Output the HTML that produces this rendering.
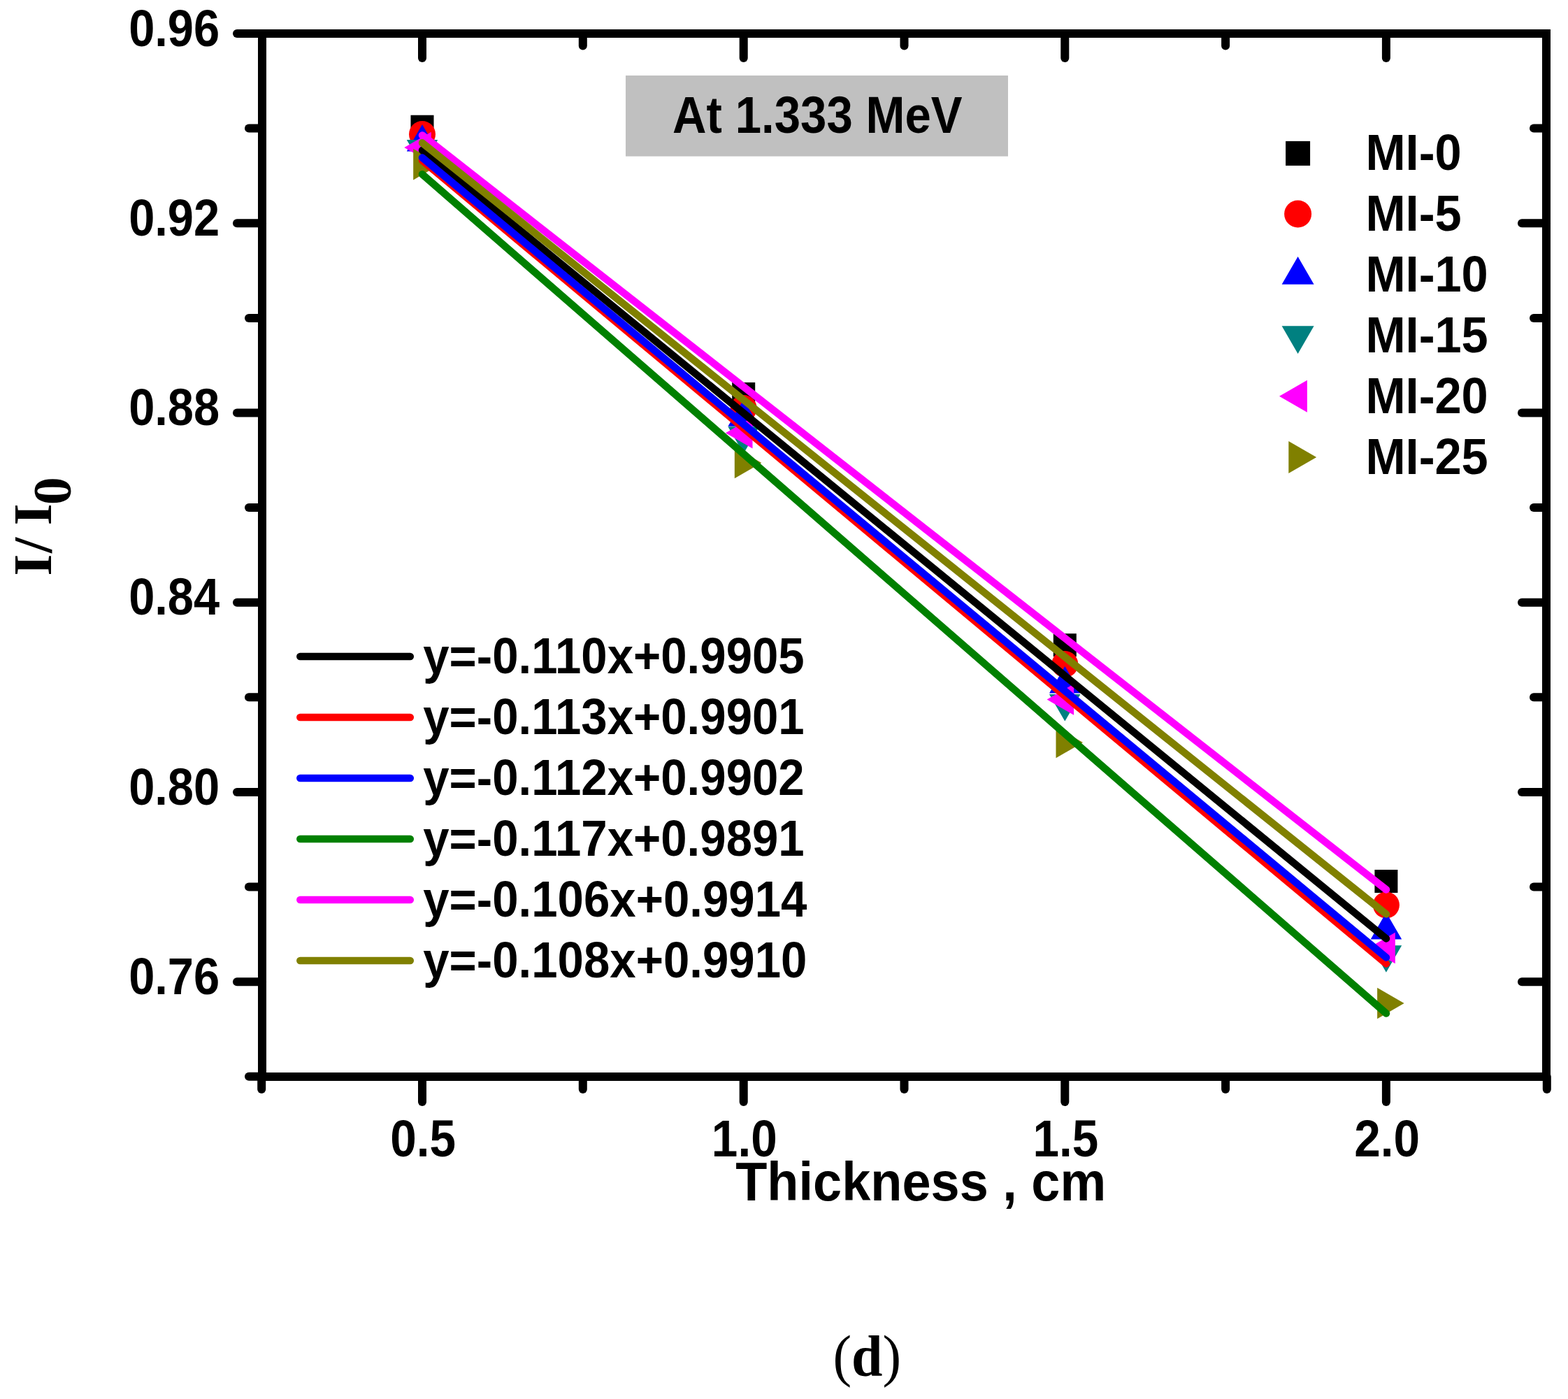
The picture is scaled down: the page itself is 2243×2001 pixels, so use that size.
<!DOCTYPE html><html><head><meta charset="utf-8"><title>I/I0 vs Thickness at 1.333 MeV</title><style>html,body{margin:0;padding:0;background:#fff;overflow:hidden;}svg{display:block;}.s{font-family:"Liberation Sans",Arial,sans-serif;font-weight:bold;}.t{font-family:"Liberation Serif","Times New Roman",serif;font-weight:bold;}</style></head><body>
<svg width="2243" height="2001" viewBox="0 0 2243 2001">
<rect width="2243" height="2001" fill="#fff"/>
<rect x="895" y="108" width="547" height="115.6" fill="#c0c0c0"/>
<g fill="#000"><rect x="587.5" y="164.7" width="33" height="33"/><rect x="1047.2" y="547.0" width="33" height="33"/><rect x="1506.8" y="906.2" width="33" height="33"/><rect x="1966.4" y="1244.0" width="33" height="33"/></g>
<g fill="#f00"><circle cx="604.0" cy="192.0" r="19.0"/><circle cx="1063.7" cy="584.0" r="19.0"/><circle cx="1523.3" cy="950.0" r="19.0"/><circle cx="1982.9" cy="1294.5" r="19.0"/></g>
<g fill="#00f"><polygon points="604.0,178.0 581.8,216.5 626.2,216.5"/><polygon points="1063.7,571.3 1041.4,609.8 1085.9,609.8"/><polygon points="1523.3,952.9 1501.0,991.4 1545.5,991.4"/><polygon points="1982.9,1304.9 1960.7,1343.4 2005.2,1343.4"/></g>
<g fill="#008080"><polygon points="604.0,238.6 581.8,200.1 626.2,200.1"/><polygon points="1063.7,648.7 1041.4,610.2 1085.9,610.2"/><polygon points="1523.3,1031.6 1501.0,993.1 1545.5,993.1"/><polygon points="1982.9,1390.7 1960.7,1352.2 2005.2,1352.2"/></g>
<g fill="#f0f"><polygon points="578.3,211.0 616.8,188.8 616.8,233.2"/><polygon points="1038.0,619.2 1076.5,597.0 1076.5,641.5"/><polygon points="1497.6,1000.5 1536.1,978.2 1536.1,1022.8"/><polygon points="1957.3,1355.9 1995.8,1333.7 1995.8,1378.2"/></g>
<g fill="#808000"><polygon points="629.7,235.1 591.2,212.8 591.2,257.4"/><polygon points="1089.3,662.0 1050.8,639.8 1050.8,684.2"/><polygon points="1549.0,1062.0 1510.5,1039.8 1510.5,1084.2"/><polygon points="2008.6,1435.0 1970.1,1412.8 1970.1,1457.2"/></g>
<g stroke-width="10.5" stroke-linecap="round" fill="none"><line x1="604" y1="215.0" x2="1983" y2="1342.5" stroke="#000"/><line x1="604" y1="229.5" x2="1983" y2="1378.5" stroke="#f00"/><line x1="604" y1="225.5" x2="1983" y2="1369.5" stroke="#00f"/><line x1="604" y1="249.2" x2="1983" y2="1449.5" stroke="#008000"/><line x1="604" y1="193.5" x2="1983" y2="1272.5" stroke="#f0f"/><line x1="604" y1="204.3" x2="1983" y2="1307.5" stroke="#808000"/></g>
<g stroke="#000" stroke-width="12" fill="none" stroke-linecap="round">
<rect x="375" y="48" width="1837" height="1492" stroke-linejoin="miter"/>
<line x1="375" y1="1539.8" x2="356" y2="1539.8"/>
<line x1="375" y1="1404.2" x2="339" y2="1404.2"/>
<line x1="2212" y1="1404.2" x2="2177" y2="1404.2"/>
<line x1="375" y1="1268.6" x2="356" y2="1268.6"/>
<line x1="2212" y1="1268.6" x2="2194" y2="1268.6"/>
<line x1="375" y1="1133.0" x2="339" y2="1133.0"/>
<line x1="2212" y1="1133.0" x2="2177" y2="1133.0"/>
<line x1="375" y1="997.3" x2="356" y2="997.3"/>
<line x1="2212" y1="997.3" x2="2194" y2="997.3"/>
<line x1="375" y1="861.7" x2="339" y2="861.7"/>
<line x1="2212" y1="861.7" x2="2177" y2="861.7"/>
<line x1="375" y1="726.1" x2="356" y2="726.1"/>
<line x1="2212" y1="726.1" x2="2194" y2="726.1"/>
<line x1="375" y1="590.5" x2="339" y2="590.5"/>
<line x1="2212" y1="590.5" x2="2177" y2="590.5"/>
<line x1="375" y1="454.9" x2="356" y2="454.9"/>
<line x1="2212" y1="454.9" x2="2194" y2="454.9"/>
<line x1="375" y1="319.2" x2="339" y2="319.2"/>
<line x1="2212" y1="319.2" x2="2177" y2="319.2"/>
<line x1="375" y1="183.6" x2="356" y2="183.6"/>
<line x1="2212" y1="183.6" x2="2194" y2="183.6"/>
<line x1="375" y1="48.0" x2="339" y2="48.0"/>
<line x1="374.2" y1="1540" x2="374.2" y2="1558"/>
<line x1="604.0" y1="1540" x2="604.0" y2="1576"/>
<line x1="604.0" y1="48" x2="604.0" y2="83"/>
<line x1="833.8" y1="1540" x2="833.8" y2="1558"/>
<line x1="833.8" y1="48" x2="833.8" y2="65.6"/>
<line x1="1063.7" y1="1540" x2="1063.7" y2="1576"/>
<line x1="1063.7" y1="48" x2="1063.7" y2="83"/>
<line x1="1293.5" y1="1540" x2="1293.5" y2="1558"/>
<line x1="1293.5" y1="48" x2="1293.5" y2="65.6"/>
<line x1="1523.3" y1="1540" x2="1523.3" y2="1576"/>
<line x1="1523.3" y1="48" x2="1523.3" y2="83"/>
<line x1="1753.1" y1="1540" x2="1753.1" y2="1558"/>
<line x1="1753.1" y1="48" x2="1753.1" y2="65.6"/>
<line x1="1982.9" y1="1540" x2="1982.9" y2="1576"/>
<line x1="1982.9" y1="48" x2="1982.9" y2="83"/>
<line x1="2212.8" y1="1540" x2="2212.8" y2="1558"/>
</g>
<text class="s" font-size="73.40" text-anchor="end" transform="translate(314.20 1421.90) scale(0.9105 1)">0.76</text>
<text class="s" font-size="73.40" text-anchor="end" transform="translate(314.20 1150.66) scale(0.9105 1)">0.80</text>
<text class="s" font-size="73.40" text-anchor="end" transform="translate(314.20 879.42) scale(0.9105 1)">0.84</text>
<text class="s" font-size="73.40" text-anchor="end" transform="translate(314.20 608.18) scale(0.9105 1)">0.88</text>
<text class="s" font-size="73.40" text-anchor="end" transform="translate(314.20 336.94) scale(0.9105 1)">0.92</text>
<text class="s" font-size="73.40" text-anchor="end" transform="translate(314.20 65.70) scale(0.9105 1)">0.96</text>
<text class="s" font-size="73.38" text-anchor="middle" transform="translate(605.10 1654.17) scale(0.9199 1)">0.5</text>
<text class="s" font-size="73.38" text-anchor="middle" transform="translate(1064.75 1654.17) scale(0.9199 1)">1.0</text>
<text class="s" font-size="73.38" text-anchor="middle" transform="translate(1524.40 1654.17) scale(0.9199 1)">1.5</text>
<text class="s" font-size="73.38" text-anchor="middle" transform="translate(1984.05 1654.17) scale(0.9199 1)">2.0</text>
<text class="s" font-size="77.27" transform="translate(1052.16 1717.02) scale(0.9569 1)">Thickness , cm</text>
<text class="t" font-size="78.50" transform="translate(73.20 823.72) rotate(-90) scale(1.020 1)"><tspan x="0" y="0">I</tspan><tspan x="32" y="0">/ </tspan><tspan x="70.7" y="0">I</tspan><tspan x="99.6" y="28">0</tspan></text>
<text class="s" font-size="73.59" transform="translate(962.07 190.26) scale(0.9131 1)">At 1.333 MeV</text>
<text class="s" font-size="72.96" transform="translate(1953.44 243.07) scale(0.9403 1)">MI-0</text>
<text class="s" font-size="72.96" transform="translate(1953.44 330.07) scale(0.9403 1)">MI-5</text>
<text class="s" font-size="72.96" transform="translate(1953.44 417.07) scale(0.9403 1)">MI-10</text>
<text class="s" font-size="72.96" transform="translate(1953.44 504.07) scale(0.9403 1)">MI-15</text>
<text class="s" font-size="72.96" transform="translate(1953.44 591.07) scale(0.9403 1)">MI-20</text>
<text class="s" font-size="72.96" transform="translate(1953.44 678.07) scale(0.9403 1)">MI-25</text>
<rect x="1839.1" y="201.9" width="35" height="35" fill="#000"/>
<circle cx="1856.6" cy="306.0" r="19.5" fill="#f00"/>
<g fill="#00f"><polygon points="1856.6,366.9 1833.6,406.8 1879.6,406.8"/></g>
<g fill="#008080"><polygon points="1856.6,506.1 1833.6,466.2 1879.6,466.2"/></g>
<g fill="#f0f"><polygon points="1830.0,566.8 1869.9,543.8 1869.9,589.8"/></g>
<g fill="#808000"><polygon points="1883.2,654.0 1843.3,631.0 1843.3,677.0"/></g>
<line x1="429.3" y1="939.0" x2="586.8" y2="939.0" stroke="#000" stroke-width="10.5" stroke-linecap="round"/>
<text class="s" font-size="72.53" transform="translate(605.23 962.77) scale(0.9264 1)">y=-0.110x+0.9905</text>
<line x1="429.3" y1="1026.0" x2="586.8" y2="1026.0" stroke="#f00" stroke-width="10.5" stroke-linecap="round"/>
<text class="s" font-size="72.53" transform="translate(605.23 1049.77) scale(0.9264 1)">y=-0.113x+0.9901</text>
<line x1="429.3" y1="1113.0" x2="586.8" y2="1113.0" stroke="#00f" stroke-width="10.5" stroke-linecap="round"/>
<text class="s" font-size="72.53" transform="translate(605.23 1136.77) scale(0.9264 1)">y=-0.112x+0.9902</text>
<line x1="429.3" y1="1200.0" x2="586.8" y2="1200.0" stroke="#008000" stroke-width="10.5" stroke-linecap="round"/>
<text class="s" font-size="72.53" transform="translate(605.23 1223.77) scale(0.9264 1)">y=-0.117x+0.9891</text>
<line x1="429.3" y1="1287.0" x2="586.8" y2="1287.0" stroke="#f0f" stroke-width="10.5" stroke-linecap="round"/>
<text class="s" font-size="72.53" transform="translate(605.23 1310.77) scale(0.9264 1)">y=-0.106x+0.9914</text>
<line x1="429.3" y1="1374.0" x2="586.8" y2="1374.0" stroke="#808000" stroke-width="10.5" stroke-linecap="round"/>
<text class="s" font-size="72.53" transform="translate(605.23 1397.77) scale(0.9264 1)">y=-0.108x+0.9910</text>
<text class="t" font-size="83.11" transform="translate(1191.40 1967.35) scale(0.9615 1)"><tspan font-weight="normal">(</tspan>d<tspan font-weight="normal">)</tspan></text>
</svg></body></html>
